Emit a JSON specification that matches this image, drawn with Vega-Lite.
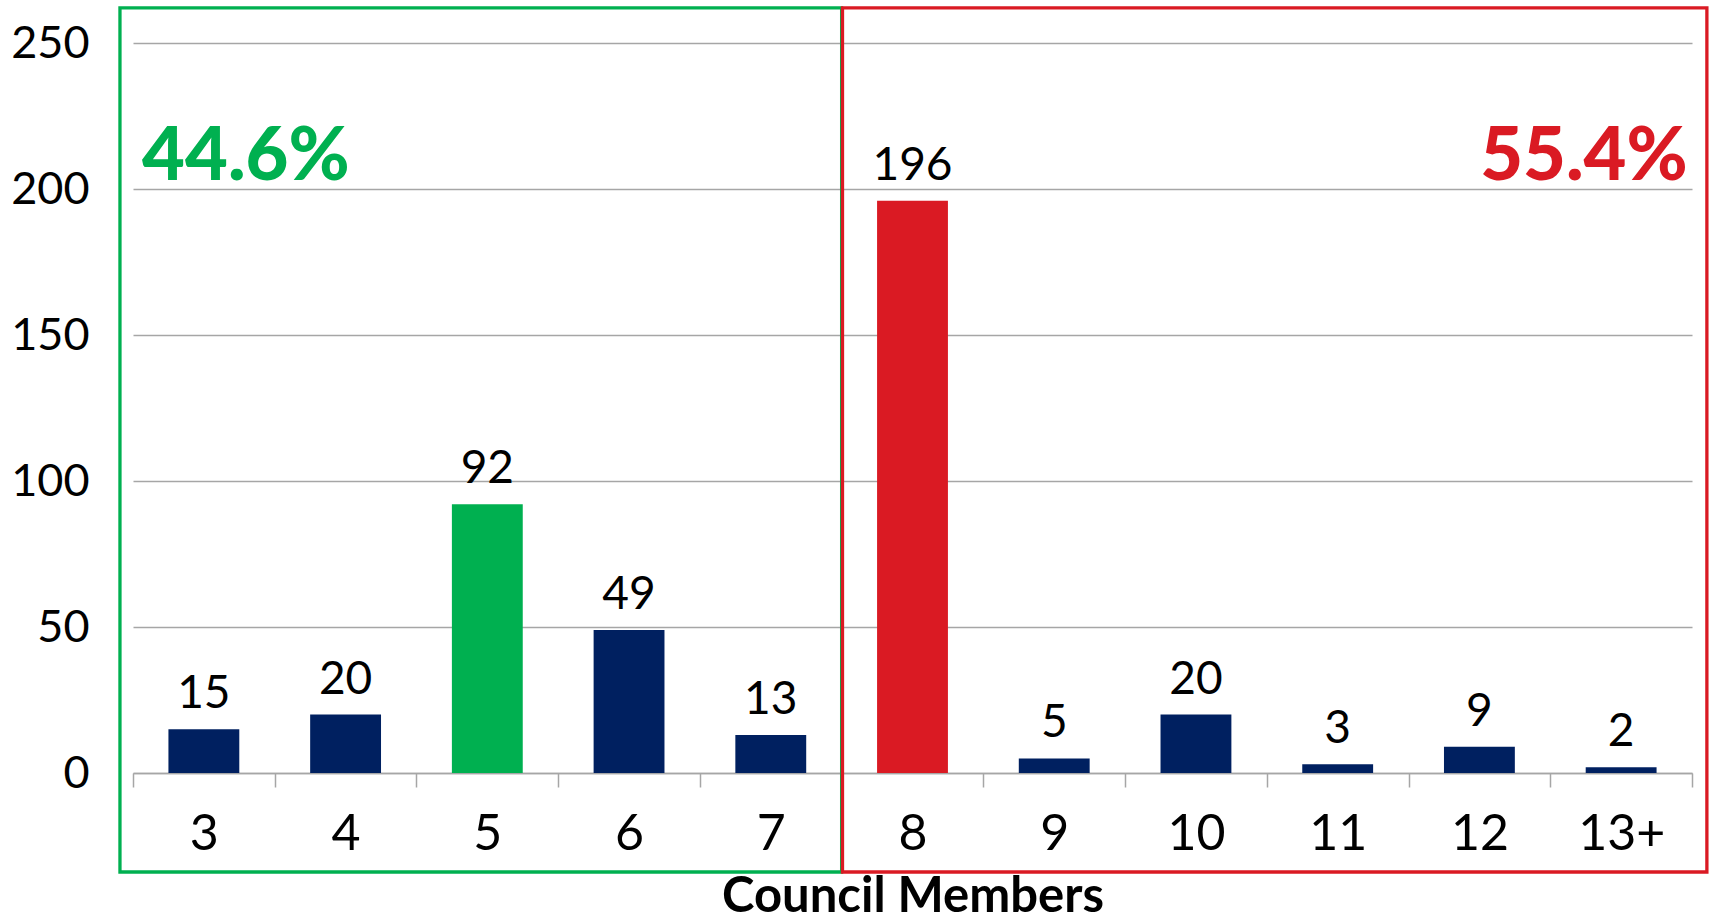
{
  "$schema": "https://vega.github.io/schema/vega-lite/v6.json",
  "autosize": {"type": "none"},
  "width": 1559,
  "height": 730,
  "padding": {"left": 133, "top": 43, "right": 17, "bottom": 150},
  "background": "white",
  "config": {"view": {"stroke": null}, "font": "Lato"},
  "layer": [
    {
      "data": {"values": [
        {"members": "3", "count": 15, "highlight": "none"},
        {"members": "4", "count": 20, "highlight": "none"},
        {"members": "5", "count": 92, "highlight": "min"},
        {"members": "6", "count": 49, "highlight": "none"},
        {"members": "7", "count": 13, "highlight": "none"},
        {"members": "8", "count": 196, "highlight": "max"},
        {"members": "9", "count": 5, "highlight": "none"},
        {"members": "10", "count": 20, "highlight": "none"},
        {"members": "11", "count": 3, "highlight": "none"},
        {"members": "12", "count": 9, "highlight": "none"},
        {"members": "13+", "count": 2, "highlight": "none"}
      ]},
      "encoding": {
        "x": {
          "field": "members", "type": "nominal", "sort": null,
          "scale": {"paddingInner": 0, "paddingOuter": 0},
          "axis": {
            "title": "Council Members", "titleFontSize": 49, "titleFontWeight": "bold", "titleColor": "black", "titlePadding": 13,
            "labelAngle": 0, "labelFontSize": 50, "labelColor": "black", "labelPadding": 22,
            "tickBand": "extent", "tickColor": "#a6a6a6", "tickSize": 14, "tickWidth": 1.5,
            "domainColor": "#a6a6a6", "domainWidth": 1.5, "grid": false
          }
        },
        "y": {
          "field": "count", "type": "quantitative",
          "scale": {"domain": [0, 250], "nice": false},
          "axis": {
            "title": null, "values": [0, 50, 100, 150, 200, 250],
            "labelFontSize": 45, "labelColor": "black", "labelPadding": 44,
            "ticks": false, "domain": false,
            "grid": true, "gridColor": "#a6a6a6", "gridWidth": 1.5
          }
        }
      },
      "layer": [
        {
          "mark": {"type": "bar", "width": {"band": 0.5}},
          "encoding": {
            "color": {
              "field": "highlight", "type": "nominal", "legend": null,
              "scale": {"domain": ["none", "min", "max"], "range": ["#002060", "#00B050", "#DA1A23"]}
            }
          }
        },
        {
          "mark": {"type": "text", "baseline": "alphabetic", "dy": -21, "fontSize": 46, "color": "black"},
          "encoding": {"text": {"field": "count", "type": "quantitative"}}
        }
      ]
    },
    {
      "data": {"values": [
        {"side": "left", "x0": -0.092, "x1": 5.0, "top": 262, "bottom": -33.9},
        {"side": "right", "x0": 5.006, "x1": 11.105, "top": 262, "bottom": -33.9}
      ]},
      "mark": {"type": "rect", "fill": null, "fillOpacity": 0, "strokeWidth": 3.3, "clip": false},
      "encoding": {
        "x": {"field": "x0", "type": "quantitative", "scale": {"domain": [0, 11], "nice": false, "zero": false}, "axis": null},
        "x2": {"field": "x1"},
        "y": {"field": "top", "type": "quantitative", "scale": {"domain": [0, 250], "nice": false}},
        "y2": {"field": "bottom"},
        "stroke": {
          "field": "side", "type": "nominal", "legend": null,
          "scale": {"domain": ["left", "right"], "range": ["#00B050", "#DA1A23"]}
        }
      }
    },
    {
      "data": {"values": [
        {"side": "left", "label": "44.6%", "xpos": 0.064, "ypos": 203}
      ]},
      "mark": {"type": "text", "baseline": "alphabetic", "align": "left", "fontSize": 74, "fontWeight": 900, "color": "#00B050"},
      "encoding": {
        "x": {"field": "xpos", "type": "quantitative", "scale": {"domain": [0, 11], "nice": false, "zero": false}, "axis": null},
        "y": {"field": "ypos", "type": "quantitative", "scale": {"domain": [0, 250], "nice": false}},
        "text": {"field": "label"}
      }
    },
    {
      "data": {"values": [
        {"side": "right", "label": "55.4%", "xpos": 10.97, "ypos": 203}
      ]},
      "mark": {"type": "text", "baseline": "alphabetic", "align": "right", "fontSize": 74, "fontWeight": 900, "color": "#DA1A23"},
      "encoding": {
        "x": {"field": "xpos", "type": "quantitative", "scale": {"domain": [0, 11], "nice": false, "zero": false}, "axis": null},
        "y": {"field": "ypos", "type": "quantitative", "scale": {"domain": [0, 250], "nice": false}},
        "text": {"field": "label"}
      }
    }
  ],
  "resolve": {"scale": {"x": "independent", "color": "independent"}, "axis": {"x": "independent"}}
}
